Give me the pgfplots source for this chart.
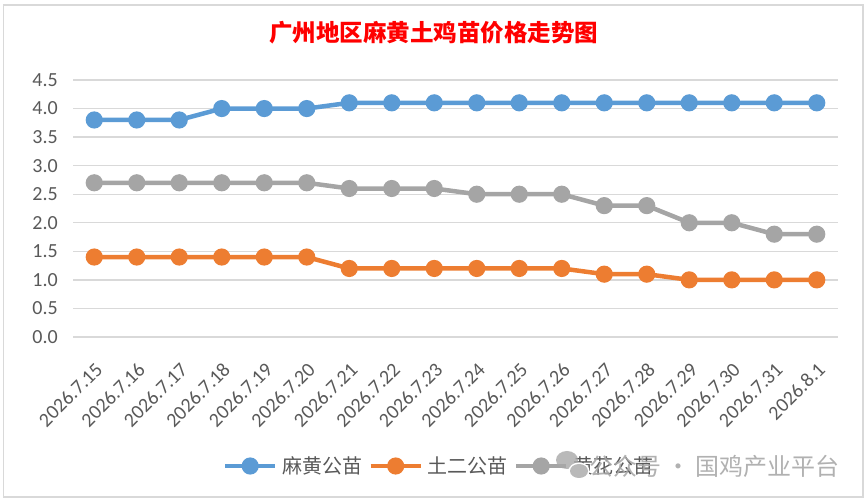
\documentclass[border=0pt]{standalone}
\usepackage{pgfplots}
\pgfplotsset{compat=1.18}
\usepackage{fontspec}
\setmainfont{Carlito}
\newfontfamily\cjk{Noto Sans CJK SC}
\definecolor{cblue}{HTML}{5B9BD5}
\definecolor{corange}{HTML}{ED7D31}
\definecolor{cgray}{HTML}{A5A5A5}
\definecolor{cgrid}{HTML}{D9D9D9}
\definecolor{ctext}{HTML}{595959}
\definecolor{cwm}{HTML}{A8A8A8}
\begin{document}
\begin{tikzpicture}
\path[use as bounding box] (0pt,0pt) rectangle (868pt,502pt);
\draw[cgrid, line width=1.5pt] (3.5pt,5pt) rectangle (863pt,497pt);
\node[text=red, inner sep=0pt, font=\cjk\bfseries\fontsize{23.5}{28}\selectfont] at (433.5pt,469pt) {广州地区麻黄土鸡苗价格走势图};
\begin{axis}[
  at={(73pt,165pt)}, anchor=south west, scale only axis,
  width=765pt, height=257pt,
  xmin=-0.5, xmax=17.5, ymin=0, ymax=4.5,
  ytick={0,0.5,1,1.5,2,2.5,3,3.5,4,4.5},
  xtick={0,...,17},
  xticklabels={2026.7.15,2026.7.16,2026.7.17,2026.7.18,2026.7.19,2026.7.20,2026.7.21,2026.7.22,2026.7.23,2026.7.24,2026.7.25,2026.7.26,2026.7.27,2026.7.28,2026.7.29,2026.7.30,2026.7.31,2026.8.1},
  scaled y ticks=false,
  y tick label style={/pgf/number format/fixed, /pgf/number format/fixed zerofill, /pgf/number format/precision=1},
  /pgf/number format/assume math mode=true,
  ymajorgrids, grid style={cgrid, line width=1.3pt},
  axis line style={draw=none}, major tick length=0pt,
  tick label style={font=\fontsize{20}{23}\selectfont, text=ctext},
  yticklabel style={anchor=east, inner sep=0pt, xshift=-15pt},
  xticklabel style={anchor=east, inner sep=0pt, xshift=5pt, yshift=-29pt, rotate=45},
  clip=false,
  legend columns=3,
  legend style={draw=none, fill=none, inner sep=0pt, outer sep=0pt,
    at={(axis description cs:0.196,-0.502)}, anchor=west,
    font=\cjk\fontsize{20}{24}\selectfont,
    nodes={inner sep=0pt, text=ctext},
    /tikz/every odd column/.append style={column sep=5pt},
    /tikz/every even column/.append style={column sep=6pt}},
  legend image code/.code={\draw[#1, mark repeat=2, mark phase=2] plot coordinates {(0pt,0pt) (25pt,0pt) (50pt,0pt)};},
]
\addplot[cblue, line width=4.5pt, mark=*, mark size=6.3pt, mark options={solid, fill=cblue, draw=none}] coordinates {
(0,3.8) (1,3.8) (2,3.8) (3,4.0) (4,4.0) (5,4.0) (6,4.1) (7,4.1) (8,4.1) (9,4.1) (10,4.1) (11,4.1) (12,4.1) (13,4.1) (14,4.1) (15,4.1) (16,4.1) (17,4.1)};
\addlegendentry{麻黄公苗}
\addplot[corange, line width=4.5pt, mark=*, mark size=6.3pt, mark options={solid, fill=corange, draw=none}] coordinates {
(0,1.4) (1,1.4) (2,1.4) (3,1.4) (4,1.4) (5,1.4) (6,1.2) (7,1.2) (8,1.2) (9,1.2) (10,1.2) (11,1.2) (12,1.1) (13,1.1) (14,1.0) (15,1.0) (16,1.0) (17,1.0)};
\addlegendentry{土二公苗}
\addplot[cgray, line width=4.5pt, mark=*, mark size=6.3pt, mark options={solid, fill=cgray, draw=none}] coordinates {
(0,2.7) (1,2.7) (2,2.7) (3,2.7) (4,2.7) (5,2.7) (6,2.6) (7,2.6) (8,2.6) (9,2.5) (10,2.5) (11,2.5) (12,2.3) (13,2.3) (14,2.0) (15,2.0) (16,1.8) (17,1.8)};
\addlegendentry{黄花公苗}
\end{axis}
\fill[cwm, opacity=0.8] (567pt,42pt) ellipse (11pt and 9pt);
\fill[white] (579pt,31pt) ellipse (10.5pt and 8.5pt);
\fill[cwm, opacity=0.8] (579pt,31pt) ellipse (9pt and 7pt);
\node[anchor=east, inner sep=0pt, text=cwm, opacity=0.9, font=\cjk\fontsize{24}{28}\selectfont] at (840pt,36pt) {公众号 · 国鸡产业平台};
\end{tikzpicture}
\end{document}
